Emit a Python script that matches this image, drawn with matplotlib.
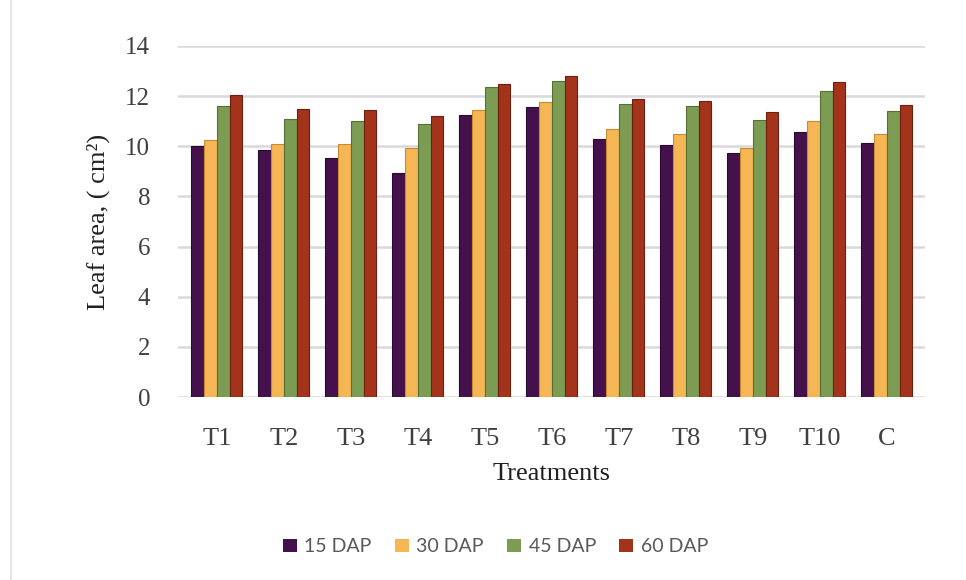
import numpy as np
import matplotlib.pyplot as plt
from matplotlib.patches import Patch

# Leaf area per treatment at four sampling dates
treatments = ['T1', 'T2', 'T3', 'T4', 'T5', 'T6', 'T7', 'T8', 'T9', 'T10', 'C']
dap15 = [10.0, 9.85, 9.55, 8.95, 11.25, 11.55, 10.3, 10.05, 9.75, 10.55, 10.15]
dap30 = [10.25, 10.1, 10.1, 9.95, 11.45, 11.75, 10.7, 10.5, 9.95, 11.0, 10.5]
dap45 = [11.6, 11.1, 11.0, 10.9, 12.35, 12.6, 11.7, 11.6, 11.05, 12.2, 11.4]
dap60 = [12.05, 11.5, 11.45, 11.2, 12.5, 12.8, 11.9, 11.8, 11.35, 12.55, 11.65]
series = ['15 DAP', '30 DAP', '45 DAP', '60 DAP']

colors = ['#44114c', '#f5b655', '#7b9c52', '#a3331b']
edges = ['#2a0830', '#c98a30', '#566f35', '#6e1f0f']

plt.rcParams['font.family'] = ['Liberation Serif', 'DejaVu Serif']

fig = plt.figure(figsize=(9.66, 5.8), dpi=100)
ax = fig.add_axes([0.1843, 0.3155, 0.7733, 0.6052])

x = np.arange(len(treatments))
w = 0.19
for i, vals in enumerate([dap15, dap30, dap45, dap60]):
    ax.bar(x + (i - 1.5) * w, vals, width=w, color=colors[i],
           edgecolor=edges[i], linewidth=0.8, zorder=3)

ax.set_xlim(-0.58, 10.57)
ax.set_ylim(0, 14)
ax.set_yticks(np.arange(0, 15, 2))
ax.set_xticks(x)
ax.set_xticklabels(treatments)
ax.yaxis.grid(True, color='#d9d9d9', linewidth=1.8, zorder=0)
ax.set_axisbelow(True)
for s in ax.spines.values():
    s.set_visible(False)
ax.tick_params(axis='both', length=0, colors='#404040', labelsize=18)
ax.tick_params(axis='y', pad=20)
ax.tick_params(axis='x', pad=22, labelsize=19)

ax.set_xlabel('Treatments', fontsize=19, color='#202020', labelpad=10)
ax.set_ylabel('Leaf area, ( cm²)', fontsize=19, color='#202020', labelpad=11)

handles = [Patch(facecolor=c, edgecolor='none') for c in colors]
fig.legend(handles, series, loc='center', bbox_to_anchor=(0.513, 0.057), ncol=4,
           frameon=False, prop={'family': 'Lato', 'size': 14},
           handlelength=0.7, handleheight=0.7, handletextpad=0.4,
           columnspacing=1.2, labelcolor='#595959')

fig.add_artist(plt.Line2D([0.011, 0.011], [0.0, 1.0], color='#e6e6e6', linewidth=1.5))

fig.savefig('out.png', dpi=100)
